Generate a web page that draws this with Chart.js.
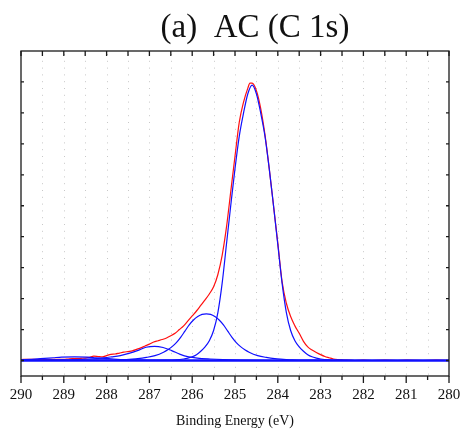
<!DOCTYPE html>
<html>
<head>
<meta charset="utf-8">
<script src="https://cdn.jsdelivr.net/npm/chart.js@4.4.0/dist/chart.umd.min.js"></script>
<style>
  html, body { margin: 0; padding: 0; background: #fff; }
  canvas { display: block; }
</style>
</head>
<body>
<canvas id="xps" width="462" height="437"></canvas>
<script>
// C 1s spectrum of AC with its fitted components
const titleText = '(a)  AC (C 1s)';
const xAxisTitle = 'Binding Energy (eV)';
const xTickLabels = [290, 289, 288, 287, 286, 285, 284, 283, 282, 281, 280];
const yTickValues = [0, 1, 2, 3, 4, 5, 6, 7, 8, 9];

// measured envelope (red)
const envelopeEnergy = [290.0, 289.8, 289.6, 289.4, 289.2, 289.0, 288.9, 288.8, 288.7, 288.6,
  288.5, 288.4, 288.3, 288.2, 288.1, 288.0, 287.9, 287.8, 287.7, 287.6,
  287.5, 287.4, 287.3, 287.2, 287.1, 287.0, 286.9, 286.8, 286.7, 286.6,
  286.5, 286.4, 286.3, 286.2, 286.1, 286.0, 285.9, 285.8, 285.7, 285.6,
  285.5, 285.4, 285.3, 285.2, 285.1, 285.0, 284.9, 284.8, 284.7, 284.65,
  284.6, 284.5, 284.4, 284.3, 284.2, 284.1, 284.0, 283.9, 283.8, 283.7,
  283.6, 283.5, 283.4, 283.3, 283.2, 283.1, 283.0, 282.9, 282.8, 282.7,
  282.6, 282.5, 282.4, 282.2, 282.0, 281.8, 281.5, 281.2, 281.0, 280.6,
  280.3, 280.0];
const envelopeCounts = [0.03, 0.04, 0.03, 0.03, 0.04, 0.04, 0.05, 0.06, 0.06, 0.07,
  0.08, 0.10, 0.14, 0.13, 0.12, 0.16, 0.20, 0.21, 0.24, 0.27,
  0.29, 0.31, 0.36, 0.41, 0.47, 0.53, 0.60, 0.64, 0.68, 0.73,
  0.80, 0.88, 1.00, 1.12, 1.28, 1.44, 1.60, 1.78, 1.96, 2.15,
  2.38, 2.78, 3.40, 4.30, 5.45, 6.60, 7.70, 8.35, 8.80, 8.96,
  8.96, 8.72, 8.15, 7.30, 6.20, 5.00, 3.80, 2.55, 1.85, 1.42,
  1.12, 0.88, 0.62, 0.44, 0.34, 0.26, 0.19, 0.13, 0.09, 0.05,
  0.03, 0.02, 0.01, 0.00, 0.01, 0.00, 0.01, 0.00, 0.01, 0.00,
  0.01, 0.00];

// component at 284.6 eV (C-C)
const peak1Energy = [287.0, 286.6, 286.4, 286.2, 286.1, 286.0, 285.9, 285.8, 285.7, 285.6,
  285.5, 285.4, 285.3, 285.2, 285.1, 285.0, 284.9, 284.8, 284.7, 284.6,
  284.5, 284.4, 284.3, 284.2, 284.1, 284.0, 283.9, 283.8, 283.7, 283.6,
  283.5, 283.4, 283.3, 283.2, 283.1, 283.0, 282.8, 282.6, 282.2];
const peak1Counts = [0.00, 0.01, 0.02, 0.05, 0.08, 0.12, 0.19, 0.30, 0.44, 0.64,
  0.97, 1.55, 2.50, 3.75, 5.00, 6.20, 7.25, 8.00, 8.62, 8.90,
  8.62, 8.00, 7.25, 6.20, 5.00, 3.75, 2.50, 1.55, 0.97, 0.64,
  0.44, 0.30, 0.19, 0.12, 0.08, 0.05, 0.02, 0.01, 0.00];

// component at 285.7 eV
const peak2Energy = [288.67, 288.17, 287.67, 287.47, 287.27, 287.07, 286.87, 286.67, 286.57, 286.47,
  286.37, 286.27, 286.17, 286.07, 285.97, 285.87, 285.77, 285.67, 285.57, 285.47,
  285.37, 285.27, 285.17, 285.07, 284.97, 284.87, 284.77, 284.67, 284.47, 284.27,
  284.07, 283.87, 283.67, 283.17, 282.67];
const peak2Counts = [0.00, 0.01, 0.02, 0.04, 0.06, 0.10, 0.16, 0.27, 0.35, 0.45,
  0.58, 0.75, 0.95, 1.15, 1.31, 1.42, 1.49, 1.51, 1.49, 1.42,
  1.31, 1.15, 0.95, 0.75, 0.58, 0.45, 0.35, 0.27, 0.16, 0.10,
  0.06, 0.04, 0.02, 0.01, 0.00];

// component at 286.9 eV
const peak3Energy = [289.88, 289.38, 288.88, 288.48, 288.18, 287.88, 287.68, 287.48, 287.28, 287.08,
  286.88, 286.68, 286.48, 286.28, 286.08, 285.88, 285.58, 285.28, 284.88, 284.38, 283.88];
const peak3Counts = [0.005, 0.01, 0.025, 0.045, 0.07, 0.12, 0.16, 0.23, 0.32, 0.43,
  0.46, 0.42, 0.32, 0.20, 0.12, 0.08, 0.05, 0.03, 0.015, 0.005, 0.00];

// component at 288.8 eV
const peak4Energy = [290.0, 289.75, 289.45, 289.25, 289.05, 288.75, 288.45, 288.25, 288.05, 287.75, 287.35, 286.75, 286.2];
const peak4Counts = [0.02, 0.04, 0.07, 0.09, 0.11, 0.12, 0.11, 0.09, 0.07, 0.04, 0.02, 0.005, 0.00];

// background line
const baseEnergy = [290, 280];
const baseCounts = [0, 0];

const toPoints = (xs, ys) => xs.map((x, i) => ({ x, y: ys[i] }));

const BLUE = '#1010ff';
const RED = '#ff1010';

function curve(xs, ys, color, width) {
  return {
    data: toPoints(xs, ys),
    borderColor: color,
    borderWidth: width,
    pointRadius: 0,
    fill: false,
    cubicInterpolationMode: 'monotone'
  };
}

// frame, inward ticks, dotted grid and text
const axisDecor = {
  id: 'axisDecor',
  beforeDatasetsDraw(chart) {
    const { ctx, chartArea: a, scales: { x } } = chart;
    ctx.save();
    ctx.strokeStyle = '#c8c8c8';
    ctx.lineWidth = 1;
    ctx.setLineDash([1, 5.8]);
    for (let e = 289.5; e > 280.2; e -= 0.5) {
      const px = Math.round(x.getPixelForValue(e)) + 0.5;
      ctx.beginPath();
      ctx.moveTo(px, a.top + 3);
      ctx.lineTo(px, a.bottom);
      ctx.stroke();
    }
    ctx.restore();
  },
  afterDatasetsDraw(chart) {
    const { ctx, chartArea: a, scales: { x, y } } = chart;
    ctx.save();
    ctx.strokeStyle = '#1a1a1a';
    ctx.lineWidth = 1.3;
    ctx.setLineDash([]);
    ctx.strokeRect(a.left, a.top, a.right - a.left, a.bottom - a.top);
    ctx.beginPath();
    for (let e = 290; e >= 280; e -= 0.5) {
      const px = x.getPixelForValue(e);
      const major = Number.isInteger(e);
      ctx.moveTo(px, a.bottom);
      ctx.lineTo(px, a.bottom + (major ? 7 : 4));
      ctx.moveTo(px, a.top);
      ctx.lineTo(px, a.top + 5);
    }
    yTickValues.forEach(v => {
      const py = y.getPixelForValue(v);
      ctx.moveTo(a.left, py);
      ctx.lineTo(a.left + 3, py);
      ctx.moveTo(a.right, py);
      ctx.lineTo(a.right - 3, py);
    });
    ctx.stroke();

    ctx.fillStyle = '#111';
    ctx.textAlign = 'center';
    ctx.textBaseline = 'alphabetic';
    ctx.font = '15px "Liberation Serif", "Times New Roman", serif';
    xTickLabels.forEach(v => {
      ctx.fillText(String(v), x.getPixelForValue(v), 399);
    });
    ctx.font = '14px "Liberation Serif", "Times New Roman", serif';
    ctx.fillText(xAxisTitle, (a.left + a.right) / 2, 425);
    ctx.font = '33px "Liberation Serif", "Times New Roman", serif';
    ctx.fillText(titleText, 255, 37);
    ctx.restore();
  }
};

new Chart(document.getElementById('xps').getContext('2d'), {
  type: 'line',
  data: {
    datasets: [
      curve(peak1Energy, peak1Counts, BLUE, 1.2),
      curve(peak2Energy, peak2Counts, BLUE, 1.2),
      curve(peak3Energy, peak3Counts, BLUE, 1.2),
      curve(peak4Energy, peak4Counts, BLUE, 1.2),
      curve(baseEnergy, baseCounts, BLUE, 2.6),
      curve(envelopeEnergy, envelopeCounts, RED, 1.2)
    ]
  },
  options: {
    responsive: false,
    animation: false,
    events: [],
    layout: { padding: { left: 21, right: 13, top: 51, bottom: 61 } },
    plugins: { legend: { display: false }, tooltip: { enabled: false }, title: { display: false } },
    scales: {
      x: { type: 'linear', reverse: true, min: 280, max: 290, display: false },
      y: { type: 'linear', min: -0.5, max: 10, display: false }
    }
  },
  plugins: [axisDecor]
});
</script>
</body>
</html>
